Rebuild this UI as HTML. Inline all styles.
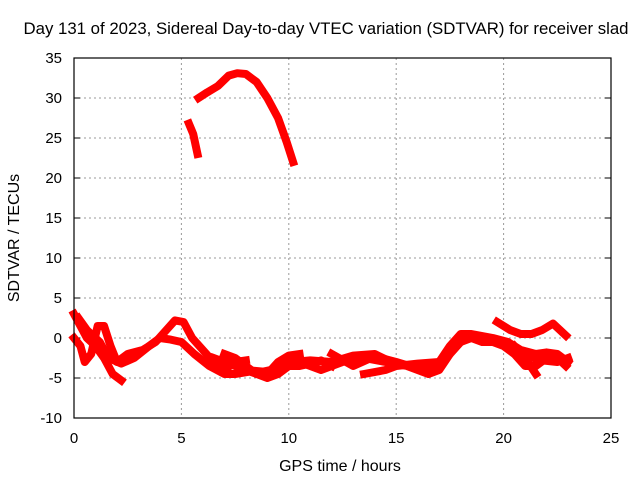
<!DOCTYPE html>
<html><head><meta charset="utf-8"><style>
body{margin:0;background:#fff}
svg{display:block;font-family:"Liberation Sans",sans-serif}
</style></head><body>
<svg id="chart" width="640" height="480">
<rect width="640" height="480" fill="#fff"/>
<text x="326" y="34" font-size="16.8" text-anchor="middle">Day 131 of 2023, Sidereal Day-to-day VTEC variation (SDTVAR) for receiver slad</text>
<text x="340" y="471" font-size="16" text-anchor="middle">GPS time / hours</text>
<text transform="translate(19,238) rotate(-90)" font-size="16" text-anchor="middle">SDTVAR / TECUs</text>
<g id="grid"></g><g id="ticks"></g><g id="series"></g>
<rect x="74" y="58" width="537" height="360" fill="none" stroke="#000" stroke-width="1.2"/>
</svg>
<script>
const xTicks=[0,5,10,15,20,25];
const yTicks=[-10,-5,0,5,10,15,20,25,30,35];
const sTop=[[5.8,30],[6.2,30.7],[6.7,31.5],[7.2,32.8],[7.6,33.1],[8.0,33],[8.5,32],[9.0,30],[9.5,27.5],[9.9,24.5],[10.2,22]];
const sTop2=[[5.35,26.8],[5.55,25.5],[5.75,23]];
const sC=[[0,3],[0.3,1.5],[0.6,0],[1.0,-1],[1.4,-2.5],[1.8,-4.5],[2.2,-5.3]];
const sD=[[0,0],[0.3,-1],[0.5,-3],[0.8,-2],[1.1,1.5],[1.4,1.5],[1.7,-1],[2.0,-3],[2.5,-2],[3.2,-1.5],[3.8,-0.5],[4.3,1],[4.7,2.2],[5.1,2],[5.5,0],[6,-1.5],[6.5,-3],[7,-4],[7.5,-3],[8,-2.8]];
const sE=[[0.2,2.5],[0.6,1],[1.2,-0.5],[1.6,-2.5],[2.2,-3.2],[2.8,-2.5],[3.5,-1],[4.0,0],[4.5,-0.2],[5,-0.5],[5.6,-2],[6.3,-3.5],[7,-4.5],[7.5,-4.5],[8.2,-4.2],[9,-5],[9.5,-4.5],[10,-3.5],[10.5,-3.5],[11,-3.2],[11.5,-2.8],[12,-3.5]];
const sF=[[7,-2],[7.5,-2.5],[8,-3.5],[8.5,-4.5],[9,-4.5],[9.5,-3],[10,-2.2],[10.5,-2]];
const sG=[[10.5,-3],[11.5,-4],[12.5,-3],[13.5,-2.5],[14.5,-3],[15.5,-3.5],[16.5,-4.5],[17,-4],[17.5,-2],[18,-0.5],[18.5,0],[19,-0.5],[19.5,-0.5],[20,-1],[20.5,-2],[21,-3.5],[21.5,-3.5],[22,-2.5],[22.5,-2.5],[22.9,-3.5]];
const sH=[[12,-2],[13,-3.5],[14,-2.3],[15,-3],[16,-3.8],[17,-3],[17.5,-1],[18,0.5],[18.5,0.5],[19.5,0],[20.2,-0.5],[20.8,-1.5],[21.5,-2],[22,-1.8],[22.5,-2],[23,-3]];
const sI=[[13.5,-4.5],[14.5,-4],[15,-3.5],[16,-3.2],[17,-3],[17.5,-2],[18,-0.5]];
const sJ=[[19.7,2],[20.3,1],[20.8,0.5],[21.3,0.5],[21.8,1],[22.3,1.8],[22.9,0.3]];
const sK=[[20.5,-1],[21,-2.5],[21.5,-4.5]];
const sL=[[6.5,-2.5],[7.2,-3.2],[8,-4],[8.8,-4.2],[9.5,-3.8],[10.2,-3],[11,-2.8],[12,-3],[13,-2.2],[14,-2],[15,-3.3],[16,-3.5],[17,-3.5],[17.6,-1.5],[18.2,0],[19,0],[19.8,-0.3],[20.5,-1.2],[21,-2.2],[21.8,-2.8],[22.5,-3],[23,-2.5]];
const allSeries=[sTop,sTop2,sC,sD,sE,sF,sG,sH,sI,sJ,sK,sL];
const X=h=>74+h*537/25, Y=v=>418-(v+10)*8;
const NS="http://www.w3.org/2000/svg";
const g=document.getElementById('grid'),t=document.getElementById('ticks'),s=document.getElementById('series');
function mk(tag,a,p){const e=document.createElementNS(NS,tag);for(const k in a)e.setAttribute(k,a[k]);p.appendChild(e);return e;}
xTicks.forEach(v=>{const x=X(v);
 if(v>0&&v<25){const l=mk('line',{x1:x,x2:x,y1:58,y2:418,stroke:'#999','stroke-dasharray':'2,3'},g);
 
 }
 const tx=mk('text',{x:x,y:443,'font-size':15,'text-anchor':'middle'},t);tx.textContent=v;
 
 });
yTicks.forEach(v=>{const y=Y(v);
 if(v>-10&&v<35){const l=mk('line',{x1:74,x2:611,y1:y,y2:y,stroke:'#999','stroke-dasharray':'2,3'},g);
 
 }
 mk('line',{x1:74,x2:80,y1:y,y2:y,stroke:'#000'},t);mk('line',{x1:605,x2:611,y1:y,y2:y,stroke:'#000'},t);
 const tx=mk('text',{x:62,y:y+5,'font-size':15,'text-anchor':'end'},t);tx.textContent=v;
 
 });
allSeries.forEach(d=>{const p=mk('polyline',{points:d.map(q=>X(q[0])+','+Y(q[1])).join(' '),fill:'none',stroke:'#f00','stroke-width':8,'stroke-linejoin':'round','stroke-linecap':'square'},s);
 
 });
</script>
</body></html>
